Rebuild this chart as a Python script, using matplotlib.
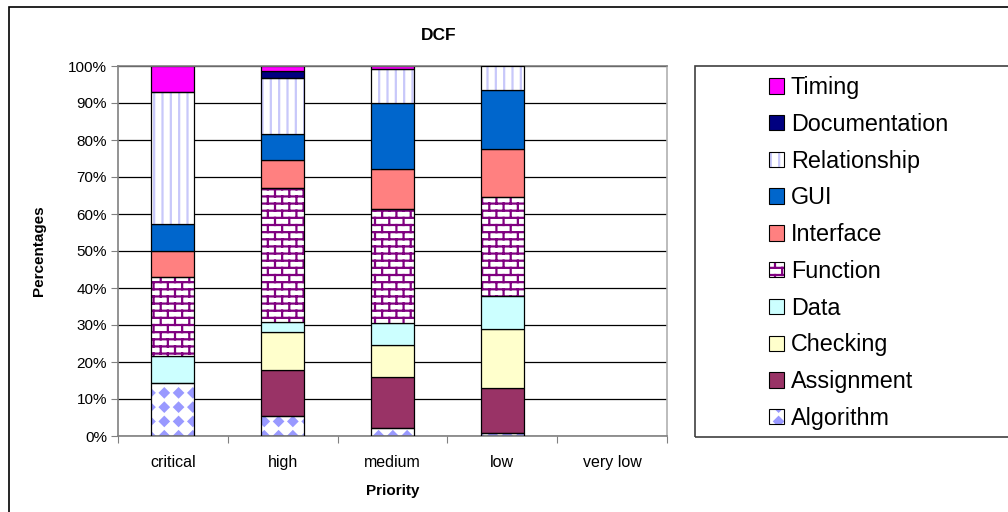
import numpy as np
import matplotlib
matplotlib.use("Agg")
import matplotlib.pyplot as plt
import matplotlib.hatch as mhatch
from matplotlib.path import Path
from matplotlib.patches import Patch, Rectangle
from matplotlib.legend_handler import HandlerTuple
from matplotlib.ticker import PercentFormatter

#------------------------------------------------------------------------------
#                   data (percent of defects per priority)
#------------------------------------------------------------------------------
categories = ['critical', 'high', 'medium', 'low', 'very low']

algorithm     = [14.3,  5.5,  2.1,  0.9, 0]
assignment    = [ 0.0, 12.4, 13.9, 12.2, 0]
checking      = [ 0.0, 10.3,  8.6, 15.8, 0]
data          = [ 7.2,  2.7,  5.9,  9.0, 0]
function      = [21.4, 36.2, 30.9, 26.6, 0]
interface     = [ 7.1,  7.4, 10.7, 13.0, 0]
gui           = [ 7.2,  7.2, 17.8, 16.0, 0]
relationship  = [35.7, 15.0,  9.3,  6.5, 0]
documentation = [ 0.0,  1.9,  0.0,  0.0, 0]
timing        = [ 7.2,  1.4,  0.8,  0.0, 0]

series_names = ['Algorithm', 'Assignment', 'Checking', 'Data', 'Function',
                'Interface', 'GUI', 'Relationship', 'Documentation', 'Timing']
series_values = [algorithm, assignment, checking, data, function,
                 interface, gui, relationship, documentation, timing]

#------------------------------------------------------------------------------
#                   custom hatches (diamonds and bricks)
#------------------------------------------------------------------------------
class DiamondHatch(mhatch.HatchPatternBase):
    # square grid of filled diamonds, used for '*'
    def __init__(self, hatch, density):
        self.n = hatch.count('*') * 7
        self.num_vertices = self.n * self.n * 5

    def set_vertices_and_codes(self, vertices, codes):
        step = 1.0 / self.n
        r = step * 0.30
        shape = np.array([[0, r], [-r, 0], [0, -r], [r, 0], [0, r]])
        k = 0
        for i in range(self.n):
            for j in range(self.n):
                vertices[k:k + 5] = shape + [(j + 0.5) * step, (i + 0.5) * step]
                codes[k:k + 5] = [Path.MOVETO, Path.LINETO, Path.LINETO,
                                  Path.LINETO, Path.CLOSEPOLY]
                k += 5


class BrickHatch(mhatch.HatchPatternBase):
    # brick wall, used for 'O'
    def __init__(self, hatch, density):
        self.rows = hatch.count('O') * 14
        self.cols = self.rows // 2
        if self.rows:
            self.num_vertices = 2 * self.rows + 2 * (self.rows + 1) * self.cols
        else:
            self.num_vertices = 0

    def set_vertices_and_codes(self, vertices, codes):
        h = 1.0 / self.rows
        w = 1.0 / self.cols
        k = 0
        for i in range(self.rows):
            y = (i + 0.5) * h
            vertices[k:k + 2] = [[0, y], [1, y]]
            codes[k:k + 2] = [Path.MOVETO, Path.LINETO]
            k += 2
        for i in range(-1, self.rows):
            y0 = (i + 0.5) * h
            shift = 0.5 * (i % 2) + 0.25
            for j in range(self.cols):
                x = (j + shift) * w
                vertices[k:k + 2] = [[x, y0], [x, y0 + h]]
                codes[k:k + 2] = [Path.MOVETO, Path.LINETO]
                k += 2


mhatch._hatch_types = [t for t in mhatch._hatch_types
                       if t not in (mhatch.Stars, mhatch.LargeCircles)]
mhatch._hatch_types += [DiamondHatch, BrickHatch]

# (face colour, hatch, hatch colour) per series
styles = {
    'Algorithm':     ('white',   '*',  '#9999FF'),
    'Assignment':    ('#993366', None, None),
    'Checking':      ('#FFFFCC', None, None),
    'Data':          ('#CCFFFF', None, None),
    'Function':      ('white',   'O',  '#800080'),
    'Interface':     ('#FF8080', None, None),
    'GUI':           ('#0066CC', None, None),
    'Relationship':  ('white',   '||', '#C8C8FA'),
    'Documentation': ('#000080', None, None),
    'Timing':        ('#FF00FF', None, None),
}

#------------------------------------------------------------------------------
#                   plot
#------------------------------------------------------------------------------
plt.rcParams['font.family'] = ['Liberation Sans', 'DejaVu Sans']
plt.rcParams['hatch.linewidth'] = 1.6

fig = plt.figure(figsize=(10.08, 5.12), dpi=100)
ax = fig.add_axes([118 / 1008, 76 / 512, 549 / 1008, 370 / 512])

x = np.arange(len(categories))
bottom = np.zeros(len(categories))
legend_handles = []
for name, vals in zip(series_names, series_values):
    vals = np.array(vals, dtype=float)
    face, hatch, hcol = styles[name]
    lw = np.where(vals > 0, 0.9, 0.0)
    if hatch:
        ax.bar(x, vals, 0.39, bottom=bottom, color=face, edgecolor=hcol,
               linewidth=0, hatch=hatch, zorder=2)
        ax.bar(x, vals, 0.39, bottom=bottom, fill=False, edgecolor='black',
               linewidth=lw, zorder=3)
        h = (Patch(facecolor=face, edgecolor=hcol, linewidth=0, hatch=hatch),
             Patch(fill=False, edgecolor='black', linewidth=0.8))
    else:
        ax.bar(x, vals, 0.39, bottom=bottom, color=face, edgecolor='black',
               linewidth=lw, zorder=2)
        h = (Patch(facecolor=face, edgecolor='black', linewidth=0.8),)
    legend_handles.append(h)
    bottom += vals

ax.set_xlim(-0.5, len(categories) - 0.5)
ax.set_ylim(0, 100)
ax.set_yticks(np.arange(0, 101, 10))
ax.yaxis.set_major_formatter(PercentFormatter(decimals=0))
ax.grid(axis='y', color='black', linewidth=0.9, zorder=0)
ax.set_axisbelow(True)

ax.set_xticks(np.arange(-0.5, len(categories)))
ax.set_xticklabels([])
ax.set_xticks(x, labels=categories, minor=True)
ax.tick_params(axis='x', which='minor', length=0, pad=13.5, labelsize=11.5)
ax.tick_params(axis='x', which='major', length=5, color='#808080')
ax.tick_params(axis='y', length=5, color='#808080', pad=3, labelsize=11)

for side in ['left', 'bottom', 'top', 'right']:
    ax.spines[side].set_color('#808080')
    ax.spines[side].set_linewidth(1.2)
ax.spines['right'].set_color('#B0B0B0')

ax.set_xlabel('Priority', fontsize=11, fontweight='bold', labelpad=10)
ax.set_ylabel('Percentages', fontsize=11, fontweight='bold', labelpad=16)
fig.text(439 / 1008, 1 - 36 / 512, 'DCF', ha='center', va='center',
         fontsize=12.5, fontweight='bold')

# legend box and entries (top series first)
fig.patches.append(Rectangle((695 / 1008, 75 / 512), 0.5, 371 / 512,
                             transform=fig.transFigure, fill=False,
                             edgecolor='#404040', linewidth=1.2))
fig.legend(legend_handles[::-1], series_names[::-1],
           handler_map={tuple: HandlerTuple(ndivide=1, pad=0)},
           loc='center left', bbox_to_anchor=(769 / 1008, 1 - 253 / 512),
           bbox_transform=fig.transFigure, frameon=False, fontsize=16.8,
           handlelength=0.64, handleheight=0.64, handletextpad=0.3,
           labelspacing=0.59, borderpad=0, borderaxespad=0)

# outer chart border
fig.patches.append(Rectangle((9 / 1008, -0.1), 1.2, 0.1 + 505 / 512,
                             transform=fig.transFigure, fill=False,
                             edgecolor='black', linewidth=1.2))

fig.savefig('out.png', dpi=100)
